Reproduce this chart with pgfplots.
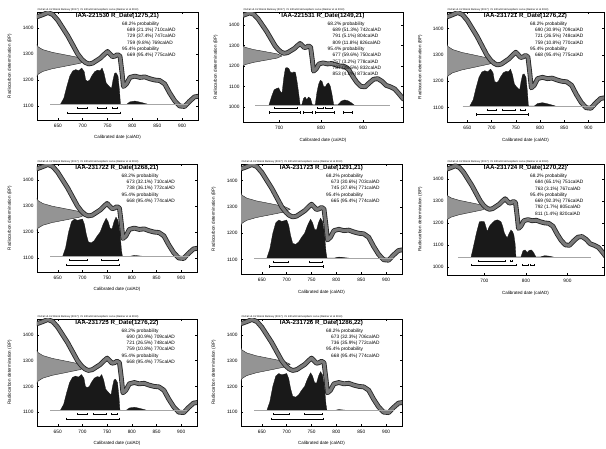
\documentclass[border=0pt]{standalone}
\usepackage{fontspec}
\setmainfont{Liberation Sans}
\usepackage{pgfplots}
\usepackage{pgfplotstable}
\pgfplotsset{compat=1.18}

\pgfplotstableread{
yr bp
600 1440
610 1445
620 1452
630 1460
640 1452
650 1430
660 1400
670 1370
680 1335
690 1300
698 1280
705 1268
712 1262
720 1265
728 1275
736 1285
744 1300
750 1310
755 1300
760 1290
765 1292
770 1298
775 1292
779 1230
782 1175
788 1185
795 1210
805 1215
815 1210
825 1212
835 1205
845 1200
855 1198
865 1185
875 1150
885 1120
895 1100
905 1098
915 1118
925 1135
935 1138
945 1125
955 1105
965 1098
975 1088
985 1065
995 1040
1005 1030
}\curvetab

\pgfplotstableread{
z d
-3.6 0
-3.0 0.011
-2.5 0.044
-2.0 0.135
-1.5 0.325
-1.0 0.607
-0.5 0.882
0 1
0.5 0.882
1.0 0.607
1.5 0.325
2.0 0.135
2.5 0.044
3.0 0.011
3.6 0
}\gausstab

\pgfplotstableread{
yr bp
655 1106
662 1130
668 1175
674 1215
680 1235
686 1240
692 1236
698 1246
703 1232
706 1200
710 1195
714 1200
718 1215
724 1232
730 1238
735 1236
739 1246
743 1225
747 1190
751 1180
755 1172
758 1168
761 1200
764 1225
767 1228
771 1215
774 1160
776 1106
788 1106
795 1116
805 1119
815 1115
825 1110
832 1106
}\distA

\pgfplotstableread{
yr bp
660 1106
666 1140
672 1200
678 1240
684 1250
690 1245
696 1248
700 1250
704 1230
708 1190
712 1162
718 1158
724 1167
730 1185
736 1200
742 1230
748 1253
752 1240
756 1215
760 1212
764 1240
768 1257
772 1245
776 1200
779 1130
781 1106
795 1106
805 1110
815 1108
825 1106
}\distB

\pgfplotstableread{
yr bp
676 1010
682 1050
688 1083
694 1090
699 1093
703 1075
707 1068
711 1140
715 1190
719 1192
723 1188
727 1170
731 1166
735 1171
739 1168
743 1120
747 1060
750 1010
754 1010
758 1040
762 1048
766 1035
770 1048
775 1040
779 1010
786 1010
790 1070
794 1110
798 1130
802 1125
806 1100
810 1098
814 1112
818 1117
822 1100
826 1060
830 1010
840 1010
848 1028
856 1034
864 1030
872 1020
878 1010
}\distC

\pgfplotstableread{
yr bp
668 1045
674 1095
681 1155
688 1205
694 1207
700 1205
704 1180
707 1160
712 1185
719 1200
725 1210
731 1214
736 1210
740 1205
744 1185
748 1155
752 1140
755 1132
759 1150
764 1168
768 1160
771 1145
774 1105
776 1045
788 1045
793 1073
798 1077
803 1065
808 1075
813 1077
818 1067
824 1045
835 1045
845 1051
855 1049
865 1045
}\distD

\pgfplotsset{
  oxc/.style={
    scale only axis, clip mode=individual,
    axis line style={line width=0.7pt},
    tick style={line width=0.45pt, black},
    major tick length=2pt, tick align=inside,
    tick label style={font=\fontsize{4.8}{4.8}\selectfont},
    /pgf/number format/assume math mode=true,
    /pgf/number format/1000 sep={},
    xlabel={Calibrated date (calAD)},
    ylabel={Radiocarbon determination (BP)},
    label style={font=\fontsize{4.5}{5}\selectfont},
    ylabel style={at={(axis description cs:-0.17,0.5)}, anchor=center},
    xlabel style={at={(axis description cs:0.5,-0.165)}, anchor=center},
    xticklabel style={yshift=-0.3pt},
  },
  std/.style={oxc, xmin=608, xmax=932, ymin=1046, ymax=1462,
    xtick={650,700,750,800,850,900}, ytick={1100,1200,1300,1400}},
}

\newcommand{\gauss}[2]{\addplot[fill=black!42, draw=black!85, line width=0.4pt]
  table[x expr={606+101*\thisrow{d}}, y expr={#1+#2*\thisrow{z}}] {\gausstab} -- cycle;}
\newcommand{\calcurve}{%
  \addplot[black!85, line width=4.8pt, line join=round] table[x=yr,y=bp] {\curvetab};
  \addplot[black!52, line width=3.1pt, line join=round] table[x=yr,y=bp] {\curvetab};}
\newcommand{\dist}[1]{\addplot[fill=black!90, draw=black!90, line width=0.3pt] table[x=yr,y=bp] {#1} -- cycle;}
\newcommand{\base}[3]{\addplot[gray!70, line width=0.6pt] coordinates {(#1,#3) (#2,#3)};}
\newcommand{\rng}[3]{\addplot[black, line width=0.45pt, mark=|, mark size=1.1pt] coordinates {(#1,#3) (#2,#3)};}
\newcommand{\ttl}[1]{\node[anchor=north, inner sep=0, font=\bfseries\fontsize{6.2}{7}\selectfont] at (rel axis cs:0.5,0.992) {#1};
  \node[anchor=south west, inner sep=0.4pt, font=\fontsize{2.6}{3}\selectfont] at (rel axis cs:0,1) {OxCal v4.3.2 Bronk Ramsey (2017); r:5 IntCal13 atmospheric curve (Reimer et al 2013)};}
\newcommand{\info}[1]{\node[anchor=north west, inner sep=0, align=left, font=\fontsize{4.8}{6.3}\selectfont] at (rel axis cs:0.528,0.912) {#1};}
\newcommand{\ind}{\hspace*{5pt}}

\begin{document}
\begin{tikzpicture}
\path[use as bounding box] (0,0) rectangle (606pt,448pt);

% Panel 1
\begin{axis}[std, at={(37pt,328pt)}, anchor=south west, width=161pt, height=108pt]
\gauss{1275}{21}
\calcurve
\dist{\distA}
\base{635}{912}{1106}
\rng{689}{710}{1092}\rng{729}{747}{1092}\rng{759}{769}{1092}
\rng{669}{775}{1074}
\ttl{IAA-221530 R\_Date(1275,21)}
\info{68.2\% probability\\\ind 689 (21.1\%) 710calAD\\\ind 729 (37.4\%) 747calAD\\\ind 759 (9.8\%) 769calAD\\95.4\% probability\\\ind 669 (95.4\%) 775calAD}
\end{axis}

% Panel 2
\begin{axis}[oxc, at={(243pt,326pt)}, anchor=south west, width=160pt, height=110pt,
  xmin=614, xmax=995, ymin=926, ymax=1464, xtick={700,800,900}, ytick={1000,1100,1200,1300,1400}]
\gauss{1249}{21}
\calcurve
\dist{\distC}
\base{643}{964}{1010}
\rng{689}{742}{995}\rng{791}{804}{995}\rng{809}{826}{995}
\rng{677}{750}{972}\rng{757}{778}{972}\rng{787}{832}{972}\rng{853}{873}{972}
\ttl{IAA-221531 R\_Date(1249,21)}
\info{68.2\% probability\\\ind 689 (51.3\%) 742calAD\\\ind 791 (5.1\%) 804calAD\\\ind 809 (11.8\%) 826calAD\\95.4\% probability\\\ind 677 (59.6\%) 750calAD\\\ind 757 (3.2\%) 778calAD\\\ind 787 (28.5\%) 832calAD\\\ind 853 (4.1\%) 873calAD}
\end{axis}

% Panel 3
\begin{axis}[std, at={(447pt,326pt)}, anchor=south west, width=157pt, height=110pt]
\gauss{1276}{22}
\calcurve
\dist{\distA}
\base{640}{914}{1106}
\rng{690}{709}{1092}\rng{721}{748}{1092}\rng{759}{770}{1092}
\rng{668}{775}{1074}
\ttl{IAA-231721 R\_Date(1276,22)}
\info{68.2\% probability\\\ind 690 (30.9\%) 709calAD\\\ind 721 (26.5\%) 748calAD\\\ind 759 (10.8\%) 770calAD\\95.4\% probability\\\ind 668 (95.4\%) 775calAD}
\end{axis}

% Panel 4
\begin{axis}[std, at={(37pt,176pt)}, anchor=south west, width=160pt, height=108pt]
\gauss{1268}{21}
\calcurve
\dist{\distB}
\base{635}{915}{1106}
\rng{673}{710}{1092}\rng{738}{772}{1092}
\rng{668}{774}{1074}
\ttl{IAA-231722 R\_Date(1268,21)}
\info{68.2\% probability\\\ind 673 (32.1\%) 710calAD\\\ind 738 (36.1\%) 772calAD\\95.4\% probability\\\ind 668 (95.4\%) 774calAD}
\end{axis}

% Panel 5
\begin{axis}[std, at={(241pt,174pt)}, anchor=south west, width=161pt, height=110pt]
\gauss{1291}{21}
\calcurve
\dist{\distB}
\base{635}{915}{1106}
\rng{673}{703}{1092}\rng{745}{771}{1092}
\rng{665}{774}{1074}
\ttl{IAA-231723 R\_Date(1291,21)}
\info{68.2\% probability\\\ind 673 (30.6\%) 703calAD\\\ind 745 (37.6\%) 771calAD\\95.4\% probability\\\ind 665 (95.4\%) 774calAD}
\end{axis}

% Panel 6
\begin{axis}[oxc, at={(447pt,173pt)}, anchor=south west, width=157pt, height=111pt,
  xmin=610, xmax=988, ymin=963, ymax=1468, xtick={700,800,900}, ytick={1000,1100,1200,1300,1400}]
\gauss{1270}{22}
\calcurve
\dist{\distD}
\base{636}{957}{1045}
\rng{684}{751}{1027}\rng{763}{767}{1027}
\rng{669}{776}{1009}\rng{792}{805}{1009}\rng{811}{820}{1009}
\ttl{IAA-231724 R\_Date(1270,22)}
\info{68.2\% probability\\\ind 684 (65.1\%) 751calAD\\\ind 763 (3.1\%) 767calAD\\95.4\% probability\\\ind 669 (92.3\%) 776calAD\\\ind 792 (1.7\%) 805calAD\\\ind 811 (1.4\%) 820calAD}
\end{axis}

% Panel 7
\begin{axis}[std, at={(37pt,22pt)}, anchor=south west, width=160pt, height=107pt]
\gauss{1276}{22}
\calcurve
\dist{\distA}
\base{635}{912}{1106}
\rng{690}{709}{1092}\rng{721}{748}{1092}\rng{759}{770}{1092}
\rng{668}{775}{1074}
\ttl{IAA-231725 R\_Date(1276,22)}
\info{68.2\% probability\\\ind 690 (30.9\%) 709calAD\\\ind 721 (26.5\%) 748calAD\\\ind 759 (10.8\%) 770calAD\\95.4\% probability\\\ind 668 (95.4\%) 775calAD}
\end{axis}

% Panel 8
\begin{axis}[std, at={(241pt,22pt)}, anchor=south west, width=161pt, height=107pt]
\gauss{1286}{22}
\calcurve
\dist{\distB}
\base{635}{915}{1106}
\rng{673}{706}{1092}\rng{736}{772}{1092}
\rng{668}{774}{1074}
\ttl{IAA-231726 R\_Date(1286,22)}
\info{68.2\% probability\\\ind 673 (32.3\%) 706calAD\\\ind 736 (35.9\%) 772calAD\\95.4\% probability\\\ind 668 (95.4\%) 774calAD}
\end{axis}
\end{tikzpicture}
\end{document}
